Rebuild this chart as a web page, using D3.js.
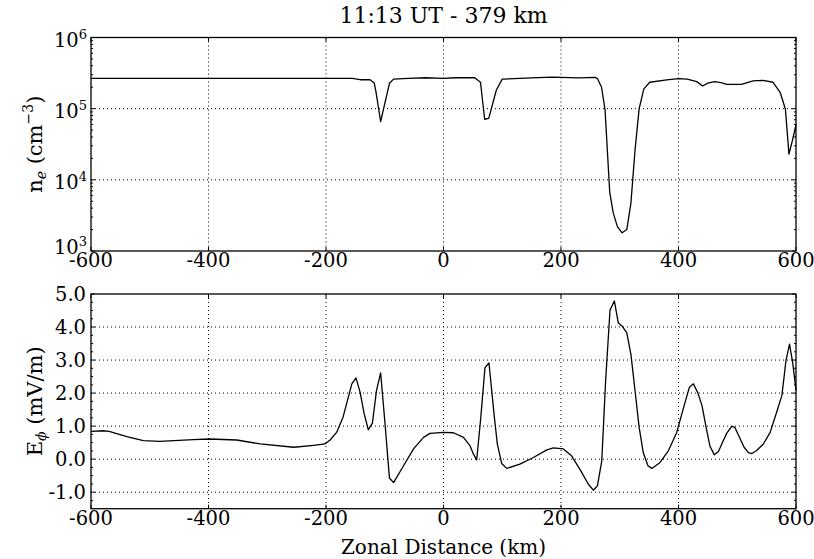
<!DOCTYPE html>
<html><head><meta charset="utf-8">
<script src="https://cdn.jsdelivr.net/npm/d3@7"></script>
<style>body{margin:0;background:#fff}svg{display:block}text{font-family:"DejaVu Serif",serif;fill:#000}</style>
</head><body><svg id="c" width="814" height="559"></svg>
<script>
const titleText = "11:13 UT - 379 km";
const xLabel = "Zonal Distance (km)";
const xTicks = [-600, -400, -200, 0, 200, 400, 600];
const neTicks = [1e3, 1e4, 1e5, 1e6];
const neTickExp = ["3", "4", "5", "6"];
const eTicks = [-1, 0, 1, 2, 3, 4, 5];
const neX = [-600,-155,-142,-125,-118,-115,-107,-92,-85,-60,-30,0,20,53,63,70,77,90,100,150,185,230,258,262,269,275,283,289,296,304,312,319,326,333,341,351,380,400,415,431,441,451,462,474,482,507,527,544,561,573,582,588,594,600];
const neVal = [2.67e5,2.67e5,2.55e5,2.55e5,2.3e5,1.73e5,6.6e4,2.27e5,2.6e5,2.66e5,2.72e5,2.66e5,2.72e5,2.72e5,2.35e5,7.1e4,7.3e4,1.83e5,2.6e5,2.7e5,2.78e5,2.7e5,2.75e5,2.65e5,2.0e5,9.6e4,6.6e3,3.4e3,2.2e3,1.8e3,2.0e3,4.7e3,2.6e4,1.0e5,1.9e5,2.35e5,2.53e5,2.65e5,2.6e5,2.4e5,2.08e5,2.3e5,2.4e5,2.3e5,2.2e5,2.2e5,2.45e5,2.5e5,2.35e5,1.7e5,9.8e4,2.3e4,3.6e4,5.9e4];
const eX = [-600,-579,-569,-539,-511,-483,-426,-398,-352,-312,-255,-221,-202,-193,-182,-171,-156,-149,-142,-135,-128,-121,-114,-107,-100,-92,-85,-68,-51,-34,-23,0,17,34,45,51,56.5,63,70.6,77.4,86,91.6,99,107.6,130,153,176,187,204,218,232,246.6,255,262,269.4,276,283.4,290.8,297.6,304.4,312,319,326,333,340,348,354.6,368.6,383,397,408,418.6,425.4,433,440,447,453.6,461,468,475,482,490.6,496,503.7,511.6,519,525,533,544.5,556,567,576,583,589,594.6,600];
const eVal = [0.84,0.86,0.84,0.68,0.56,0.54,0.59,0.61,0.58,0.46,0.36,0.42,0.46,0.58,0.81,1.27,2.28,2.46,2.03,1.37,0.89,1.09,2.08,2.61,1.17,-0.57,-0.71,-0.20,0.31,0.66,0.78,0.81,0.80,0.66,0.41,0.15,-0.02,1.17,2.77,2.91,1.37,0.46,-0.13,-0.28,-0.15,0.05,0.28,0.34,0.31,0.10,-0.30,-0.76,-0.94,-0.81,-0.05,2.38,4.51,4.79,4.12,4.02,3.82,3.17,2.08,0.96,0.20,-0.20,-0.28,-0.10,0.26,0.81,1.52,2.18,2.28,2.0,1.62,0.96,0.39,0.13,0.23,0.51,0.78,0.99,0.96,0.66,0.36,0.20,0.17,0.26,0.46,0.81,1.42,1.93,2.99,3.48,2.89,2.08];

const svg = d3.select("#c");
const L = 91, R = 796;
const top1 = 37.5, bot1 = 251, top2 = 294, bot2 = 508.7;
const x = d3.scaleLinear().domain([-600, 600]).range([L, R]);
const yN = d3.scaleLog().domain([1e3, 1e6]).range([bot1, top1]);
const yE = d3.scaleLinear().domain([-1.5, 5]).range([bot2, top2]);
const FS = 19.5;

function frame(y, top, bot, yMajor, yMinor) {
  const g = svg.append("g");
  g.selectAll(".gx").data(xTicks.slice(1, -1)).join("line")
    .attr("x1", d => x(d)).attr("x2", d => x(d)).attr("y1", top).attr("y2", bot)
    .attr("stroke", "#000").attr("stroke-width", 1).attr("stroke-dasharray", "1,3");
  g.selectAll(".gy").data(yMajor.filter(d => y(d) > top + 1 && y(d) < bot - 1)).join("line")
    .attr("x1", L).attr("x2", R).attr("y1", d => y(d)).attr("y2", d => y(d))
    .attr("stroke", "#000").attr("stroke-width", 1).attr("stroke-dasharray", "1,3");
  xTicks.forEach(d => {
    g.append("line").attr("x1", x(d)).attr("x2", x(d)).attr("y1", bot).attr("y2", bot - 4).attr("stroke", "#000");
    g.append("line").attr("x1", x(d)).attr("x2", x(d)).attr("y1", top).attr("y2", top + 4).attr("stroke", "#000");
  });
  yMajor.forEach(d => {
    g.append("line").attr("x1", L).attr("x2", L + 4).attr("y1", y(d)).attr("y2", y(d)).attr("stroke", "#000");
    g.append("line").attr("x1", R).attr("x2", R - 4).attr("y1", y(d)).attr("y2", y(d)).attr("stroke", "#000");
  });
  yMinor.forEach(d => {
    g.append("line").attr("x1", L).attr("x2", L + 2).attr("y1", y(d)).attr("y2", y(d)).attr("stroke", "#000");
    g.append("line").attr("x1", R).attr("x2", R - 2).attr("y1", y(d)).attr("y2", y(d)).attr("stroke", "#000");
  });
  g.append("rect").attr("x", L).attr("y", top).attr("width", R - L).attr("height", bot - top)
    .attr("fill", "none").attr("stroke", "#000").attr("stroke-width", 1.3);
  g.selectAll(".xl").data(xTicks).join("text")
    .attr("x", d => x(d)).attr("y", bot + 16).attr("text-anchor", "middle")
    .attr("font-size", FS).text(d => d < 0 ? "-" + Math.abs(d) : d);
  return g;
}

const nMinor = [];
for (let e = 3; e < 6; e++) for (let m = 2; m <= 9; m++) nMinor.push(m * Math.pow(10, e));
const g1 = frame(yN, top1, bot1, neTicks, nMinor);
neTicks.forEach((d, i) => {
  const t = g1.append("text").attr("x", 87).attr("y", yN(d) + (i === 0 ? 3 : 9)).attr("text-anchor", "end").attr("font-size", FS);
  t.append("tspan").text("10");
  t.append("tspan").attr("dy", -8).attr("font-size", 13).text(neTickExp[i]);
});
const lineN = d3.line().x(d => x(d[0])).y(d => yN(d[1]));
svg.append("path").datum(neX.map((v, i) => [v, neVal[i]])).attr("d", lineN)
  .attr("fill", "none").attr("stroke", "#000").attr("stroke-width", 1.3).attr("stroke-linejoin", "round");

const eMinor = d3.range(-1.5, 5.001, 0.25).filter(v => Math.abs(v - Math.round(v)) > 0.01);
const g2 = frame(yE, top2, bot2, eTicks, eMinor);
g2.selectAll(".yl").data(eTicks).join("text")
  .attr("x", 86).attr("y", d => yE(d) + 7).attr("text-anchor", "end").attr("font-size", FS)
  .text(d => (d < 0 ? "-" : "") + Math.abs(d).toFixed(1));
const lineE = d3.line().x(d => x(d[0])).y(d => yE(d[1]));
svg.append("path").datum(eX.map((v, i) => [v, eVal[i]])).attr("d", lineE)
  .attr("fill", "none").attr("stroke", "#000").attr("stroke-width", 1.3).attr("stroke-linejoin", "round");

svg.append("text").attr("x", (L + R) / 2).attr("y", 23).attr("text-anchor", "middle").attr("font-size", 22).text(titleText);
svg.append("text").attr("x", (L + R) / 2).attr("y", 554).attr("text-anchor", "middle").attr("font-size", 20).text(xLabel);

const yl1 = svg.append("text").attr("transform", `translate(42,${(top1 + bot1) / 2}) rotate(-90)`)
  .attr("text-anchor", "middle").attr("font-size", 21);
yl1.append("tspan").text("n");
yl1.append("tspan").attr("dy", 4).attr("font-size", 14).attr("font-style", "italic").text("e");
yl1.append("tspan").attr("dy", -4).text(" (cm");
yl1.append("tspan").attr("dy", -9).attr("font-size", 14).text("−3");
yl1.append("tspan").attr("dy", 9).text(")");

const yl2 = svg.append("text").attr("transform", `translate(42,${(top2 + bot2) / 2}) rotate(-90)`)
  .attr("text-anchor", "middle").attr("font-size", 21);
yl2.append("tspan").text("E");
yl2.append("tspan").attr("dy", 4).attr("font-size", 14).attr("font-style", "italic").text("ϕ");
yl2.append("tspan").attr("dy", -4).text(" (mV/m)");
</script></body></html>
